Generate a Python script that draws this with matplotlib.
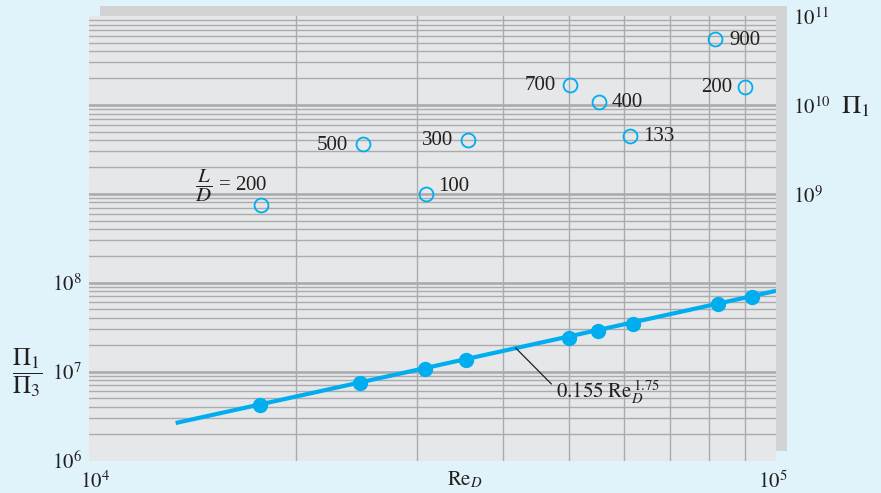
import matplotlib.pyplot as plt
from matplotlib.patches import Rectangle
from matplotlib.ticker import NullLocator
from matplotlib.transforms import ScaledTranslation

plt.rcParams['font.family'] = ['Liberation Serif', 'DejaVu Serif']
plt.rcParams['mathtext.fontset'] = 'stix'

# ---- data ----
# Pi1/Pi3 (filled dots)
re_ratio = [1.774e4, 2.48e4, 3.08e4, 3.54e4, 4.99e4, 5.50e4, 6.19e4, 8.23e4, 9.22e4]
pi_ratio = [4.18e6, 7.39e6, 1.07e7, 1.34e7, 2.41e7, 2.86e7, 3.46e7, 5.71e7, 6.9e7]

# Pi1 (open circles), labelled with L/D
re_pi1 = [1.778e4, 2.505e4, 3.094e4, 3.566e4, 5.02e4, 5.525e4, 6.13e4, 8.16e4, 9.02e4]
pi1 = [7.53e8, 3.63e9, 9.95e8, 4.06e9, 1.69e10, 1.08e10, 4.51e9, 5.47e10, 1.59e10]
ld_labels = [r'$\dfrac{L}{D}$ = 200', '500', '100', '300', '700', '400', '133', '900', '200']

# fitted line 0.155 Re^1.75 (end points)
fit_re = [1.337e4, 1.0e5]
fit_pi = [2.64e6, 8.1e7]

# label placement (pixels from the circle, alignment)
lab_pos = [(7, 19, 'right'), (-15, -1, 'right'), (12, 7, 'left'), (-15, -1, 'right'),
           (-15, -1, 'right'), (13, -1, 'left'), (13, -1, 'left'), (14, -1, 'left'),
           (-13, -1, 'right')]

W, H = 881, 493
bg = '#e0f2fa'
face = '#e6e7e8'
shadow = '#d1d3d4'
blue = '#00aeef'
ink = '#231f20'

fig = plt.figure(figsize=(W / 100, H / 100), dpi=100, facecolor=bg)

# axes box in pixels
x0, x1, ytop, ybot = 89, 776, 16, 460.5
ax = fig.add_axes([x0 / W, (H - ybot) / H, (x1 - x0) / W, (ybot - ytop) / H])
ax.set_zorder(2)

# drop shadow behind the plot area
fig.patches.append(Rectangle(((x0 + 11) / W, (H - ybot + 10) / H), (x1 - x0) / W, (ybot - ytop) / H,
                             transform=fig.transFigure, facecolor=shadow, edgecolor='none', zorder=0))

ax.set_facecolor(face)
ax.set_xscale('log')
ax.set_yscale('log')
ax.set_xlim(1e4, 1e5)
ax.set_ylim(1e6, 1e11)
for s in ax.spines.values():
    s.set_visible(False)

# grid
gcol = '#a9abae'
for m in range(2, 10):
    ax.axvline(m * 1e4, color=gcol, lw=1.0, zorder=1)
for d in range(6, 11):
    for m in range(1, 10):
        if d == 6 and m == 1:
            continue
        ax.axhline(m * 10 ** d, color=gcol, lw=1.9 if m == 1 else 1.0, zorder=1)

# fit line and points
ax.plot(fit_re, fit_pi, color=blue, lw=3.0, zorder=3, solid_capstyle='butt')
ax.plot(re_ratio, pi_ratio, 'o', color=blue, ms=10, zorder=4)
ax.plot(re_pi1, pi1, 'o', mfc='none', mec=blue, mew=1.3, ms=10, zorder=4)

for x, y, t, (dx, dy, ha) in zip(re_pi1, pi1, ld_labels, lab_pos):
    ax.annotate(t, (x, y), xytext=(dx * 0.72, dy * 0.72), textcoords='offset points',
                ha=ha, va='center', fontsize=15, color=ink, zorder=5)

# leader for fit label
ax.annotate('', xy=(4.18e4, 1.84e7), xytext=(25.7, -25.9), textcoords='offset points',
            arrowprops=dict(arrowstyle='-', color=ink, lw=0.9, shrinkA=0, shrinkB=0))
ax.annotate(r'$0.155\ \mathrm{Re}_D^{\,1.75}$', xy=(4.18e4, 1.84e7), xytext=(29.3, -32),
            textcoords='offset points', ha='left', va='center', fontsize=15, color=ink)

# ticks
ax.xaxis.set_minor_locator(NullLocator())
ax.yaxis.set_minor_locator(NullLocator())
ax.set_xticks([1e4, 1e5], [r'$10^4$', r'$10^5$'])
ax.set_yticks([1e6, 1e7, 1e8], [r'$10^6$', r'$10^7$', r'$10^8$'])
ax.tick_params(length=0, labelsize=15, labelcolor=ink)
ax.tick_params(axis='x', pad=8)
ax.tick_params(axis='y', pad=5)
xt = ax.get_xticklabels()
xt[0].set_transform(xt[0].get_transform() + ScaledTranslation(0.06, 0, fig.dpi_scale_trans))
xt[1].set_transform(xt[1].get_transform() + ScaledTranslation(-0.03, 0, fig.dpi_scale_trans))

# right-hand Pi1 scale
for v, t in zip([1e9, 1e10, 1e11], [r'$10^9$', r'$10^{10}$', r'$10^{11}$']):
    ax.annotate(t, (1.025, v), xycoords=ax.get_yaxis_transform(), xytext=(0, -2.5),
                textcoords='offset points', ha='left', va='center', fontsize=15, color=ink)
ax.annotate(r'$\Pi_1$', (1.095, 1e10), xycoords=ax.get_yaxis_transform(), xytext=(0, -1.5),
            textcoords='offset points', ha='left', va='center', fontsize=19, color=ink)

# axis titles
fig.text(465 / W, 1 - 480 / H, r'$\mathrm{Re}_D$', ha='center', va='center', fontsize=15, color=ink)
fig.text(27 / W, 1 - 373 / H, r'$\dfrac{\Pi_1}{\Pi_3}$', ha='center', va='center', fontsize=18, color=ink)

fig.savefig('out.png', dpi=100, facecolor=bg)
